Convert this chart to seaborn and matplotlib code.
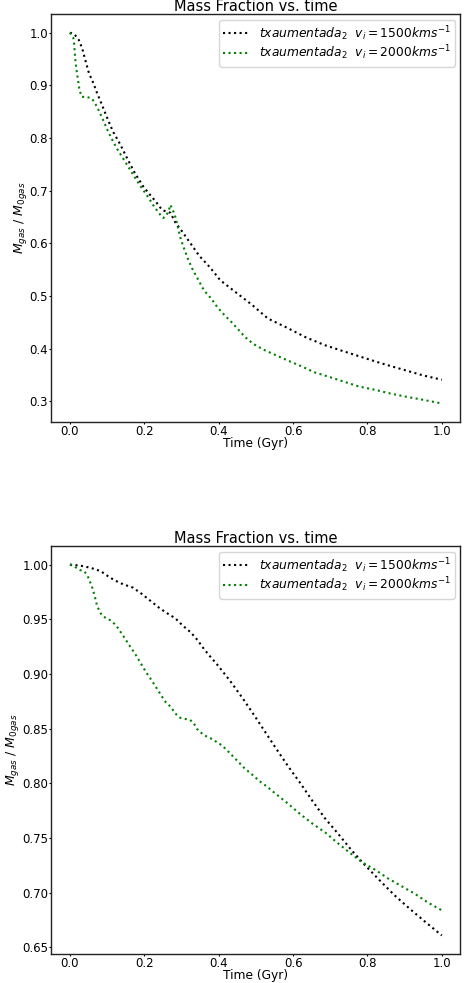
import numpy as np
import matplotlib
matplotlib.use("Agg")
import matplotlib.pyplot as plt
import seaborn as sns

# ---- data ----
# top panel, v_i = 1500 km/s
t_top_1500 = [0.0, 0.013, 0.023, 0.033, 0.040, 0.051, 0.063, 0.073, 0.083, 0.099, 0.115,
              0.135, 0.154, 0.174, 0.196, 0.213, 0.231, 0.248, 0.270, 0.283, 0.301, 0.324,
              0.348, 0.377, 0.404, 0.435, 0.457, 0.490, 0.521, 0.533, 0.583, 0.633, 0.684,
              0.736, 0.789, 0.843, 0.897, 0.951, 1.0]
m_top_1500 = [1.0, 0.996, 0.987, 0.970, 0.951, 0.923, 0.904, 0.885, 0.868, 0.840, 0.813,
              0.788, 0.761, 0.734, 0.709, 0.694, 0.679, 0.663, 0.658, 0.640, 0.623, 0.600,
              0.576, 0.554, 0.530, 0.513, 0.501, 0.483, 0.464, 0.457, 0.440, 0.422, 0.407,
              0.395, 0.383, 0.371, 0.360, 0.349, 0.341]

# top panel, v_i = 2000 km/s
t_top_2000 = [0.0, 0.009, 0.011, 0.014, 0.017, 0.021, 0.025, 0.029, 0.032, 0.045, 0.058,
              0.066, 0.079, 0.091, 0.102, 0.114, 0.127, 0.150, 0.165, 0.179, 0.195, 0.211,
              0.226, 0.242, 0.251, 0.260, 0.266, 0.270, 0.275, 0.281, 0.285, 0.291, 0.298,
              0.307, 0.317, 0.328, 0.341, 0.360, 0.380, 0.396, 0.415, 0.435, 0.453, 0.471,
              0.493, 0.518, 0.543, 0.581, 0.621, 0.658, 0.699, 0.738, 0.778, 0.820, 0.861,
              0.902, 0.942, 1.0]
m_top_2000 = [1.0, 0.990, 0.980, 0.951, 0.932, 0.913, 0.894, 0.883, 0.878, 0.878, 0.875,
              0.868, 0.850, 0.831, 0.813, 0.796, 0.779, 0.753, 0.736, 0.720, 0.703, 0.687,
              0.670, 0.655, 0.648, 0.654, 0.663, 0.673, 0.665, 0.656, 0.646, 0.628, 0.608,
              0.590, 0.571, 0.553, 0.536, 0.511, 0.495, 0.479, 0.464, 0.450, 0.436, 0.422,
              0.409, 0.399, 0.391, 0.379, 0.367, 0.355, 0.346, 0.337, 0.328, 0.322, 0.315,
              0.309, 0.304, 0.296]

# bottom panel, v_i = 1500 km/s
t_bot_1500 = [0.0, 0.029, 0.056, 0.083, 0.095, 0.118, 0.143, 0.169, 0.194, 0.216, 0.238,
              0.259, 0.283, 0.304, 0.325, 0.343, 0.360, 0.377, 0.395, 0.430, 0.464, 0.494,
              0.525, 0.556, 0.588, 0.620, 0.652, 0.686, 0.721, 0.757, 0.794, 0.834, 0.872,
              0.915, 0.957, 1.0]
m_bot_1500 = [1.0, 0.999, 0.997, 0.994, 0.991, 0.986, 0.982, 0.979, 0.973, 0.967, 0.961,
              0.956, 0.951, 0.944, 0.938, 0.931, 0.923, 0.916, 0.909, 0.894, 0.878, 0.863,
              0.847, 0.831, 0.815, 0.800, 0.784, 0.768, 0.754, 0.739, 0.725, 0.711, 0.698,
              0.685, 0.673, 0.661]

# bottom panel, v_i = 2000 km/s
t_bot_2000 = [0.0, 0.013, 0.027, 0.038, 0.047, 0.053, 0.058, 0.066, 0.073, 0.079, 0.085,
              0.097, 0.109, 0.119, 0.129, 0.145, 0.160, 0.176, 0.190, 0.204, 0.220, 0.235,
              0.250, 0.258, 0.271, 0.283, 0.296, 0.309, 0.323, 0.333, 0.341, 0.350, 0.361,
              0.373, 0.386, 0.397, 0.408, 0.429, 0.449, 0.469, 0.490, 0.510, 0.534, 0.544,
              0.581, 0.619, 0.653, 0.687, 0.718, 0.751, 0.785, 0.821, 0.856, 0.892, 0.928,
              0.963, 1.0]
m_bot_2000 = [1.0, 0.998, 0.995, 0.994, 0.990, 0.985, 0.981, 0.972, 0.962, 0.958, 0.954,
              0.951, 0.949, 0.946, 0.942, 0.934, 0.926, 0.918, 0.910, 0.902, 0.894, 0.886,
              0.878, 0.874, 0.870, 0.864, 0.860, 0.859, 0.858, 0.855, 0.850, 0.847, 0.844,
              0.842, 0.840, 0.837, 0.835, 0.828, 0.821, 0.814, 0.808, 0.802, 0.796, 0.793,
              0.783, 0.772, 0.763, 0.755, 0.746, 0.737, 0.728, 0.721, 0.713, 0.706, 0.699,
              0.691, 0.684]

label_1500 = r'$txaumentada_2\ \ v_i = 1500 kms^{-1}$'
label_2000 = r'$txaumentada_2\ \ v_i = 2000 kms^{-1}$'

sns.set_style("ticks")
plt.rcParams['font.family'] = ['DejaVu Sans']
plt.rcParams.update({'text.color': 'black', 'axes.labelcolor': 'black',
                     'xtick.color': 'black', 'ytick.color': 'black',
                     'axes.edgecolor': '#222222'})

fig = plt.figure(figsize=(4.65, 9.83), dpi=100)
ax1 = fig.add_axes([0.1105, 0.5707, 0.8796, 0.415])
ax2 = fig.add_axes([0.1105, 0.0295, 0.8796, 0.415])

panels = [
    (ax1, t_top_1500, m_top_1500, t_top_2000, m_top_2000),
    (ax2, t_bot_1500, m_bot_1500, t_bot_2000, m_bot_2000),
]

for ax, t1, m1, t2, m2 in panels:
    sns.lineplot(x=t1, y=m1, ax=ax, color='black', linestyle=':', linewidth=1.5,
                 sort=False, estimator=None, label=label_1500)
    sns.lineplot(x=t2, y=m2, ax=ax, color='green', linestyle=':', linewidth=1.5,
                 sort=False, estimator=None, label=label_2000)
    ax.set_title('Mass Fraction vs. time', fontsize=10.5, pad=2)
    ax.set_xlabel('Time (Gyr)', fontsize=8.8, labelpad=-1)
    ax.set_ylabel(r'$M_{gas}$ / $M_{0gas}$', fontsize=9, labelpad=0.5)
    ax.tick_params(labelsize=8.5, length=1.5, pad=0.8)
    ax.legend(loc='upper right', fontsize=8.8, labelspacing=0.1, borderpad=0.35,
              handletextpad=0.9, borderaxespad=0.45)
    for s in ax.spines.values():
        s.set_linewidth(1.0)

ax1.set_yticks([0.3, 0.4, 0.5, 0.6, 0.7, 0.8, 0.9, 1.0])
ax2.set_yticks([0.65, 0.70, 0.75, 0.80, 0.85, 0.90, 0.95, 1.00])
ax2.yaxis.set_major_formatter(matplotlib.ticker.FormatStrFormatter('%.2f'))

fig.savefig('out.png', dpi=100)
